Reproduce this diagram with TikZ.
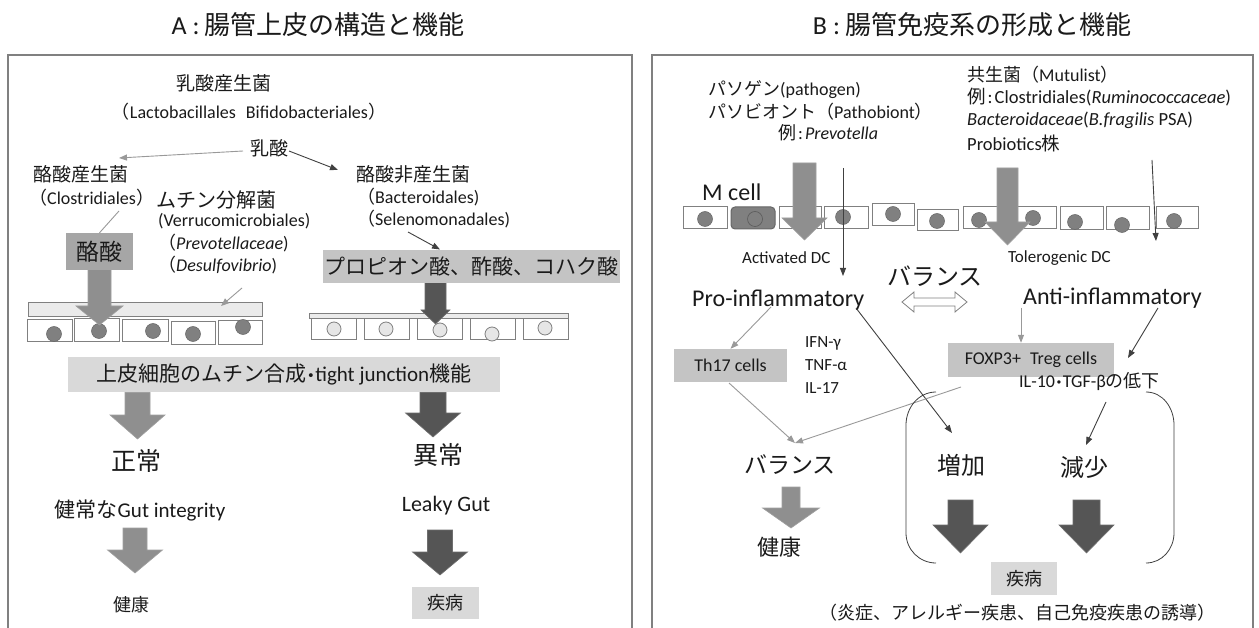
\documentclass[tikz,border=0pt]{standalone}
\usepackage{fontspec}
\setmainfont{Carlito}
\newfontfamily\jp{Noto Sans CJK JP}
\usetikzlibrary{arrows.meta}
\newcommand\J[1]{{\jp #1}}
\newcommand\mdot{\hspace{1.5pt}\textbf{·}\hspace{1.5pt}}
\definecolor{panel}{HTML}{808080}
\definecolor{garrow}{HTML}{8F8F8F}
\definecolor{darrow}{HTML}{555555}
\definecolor{gline}{HTML}{999999}
\definecolor{dline}{HTML}{404040}
\definecolor{boxA}{HTML}{A6A6A6}
\definecolor{boxB}{HTML}{C4C4C4}
\definecolor{boxC}{HTML}{D9D9D9}
\definecolor{nucD}{HTML}{808080}
\definecolor{nucL}{HTML}{E6E6E6}
\definecolor{mucus}{HTML}{EBEBEB}
\definecolor{textc}{HTML}{1A1A1A}
\newcommand\blockarr[7]{%
  \filldraw[fill=#7,draw=#7!85!white,line width=0.6pt] (#1-#5,#2) -- (#1+#5,#2) -- (#1+#5,#3) -- (#1+#6,#3) -- (#1,#4) -- (#1-#6,#3) -- (#1-#5,#3) -- cycle;}
\tikzset{
  lbl/.style={inner sep=0pt, text=textc, font=\fontsize{#1}{#1}\selectfont},
  panelline/.style={draw=panel, line width=1.5pt},
  cellbox/.style={draw=panel, line width=1pt, fill=white},
  nucdark/.style={fill=nucD, draw=nucD!80!black, line width=0.5pt},
  nuclight/.style={fill=nucL, draw=panel, line width=0.8pt},
  gconn/.style={draw=gline, line width=0.9pt, -{Triangle[length=8pt,width=6pt]}},
  dconn/.style={draw=dline, line width=0.9pt, -{Triangle[length=8pt,width=6pt]}},
  fillbox/.style={inner sep=0pt, text=textc, fill=#1},
}
\begin{document}
\begin{tikzpicture}[x=1pt,y=-1pt]
\useasboundingbox (0,0) rectangle (1259,628);
\fill[white] (0,0) rectangle (1259,628);

% ---------------- titles and panels
\node[lbl=26] (titleA) at (318,25) {A\hspace{6pt}:\hspace{5pt}\J{腸管上皮の構造と機能}};
\node[lbl=26] (titleB) at (972,25) {B\hspace{6pt}:\hspace{5pt}\J{腸管免疫系の形成と機能}};
\draw[panelline] (8,650) -- (8,55) -- (632,55) -- (632,650);
\draw[panelline] (652,650) -- (652,55) -- (1253,55) -- (1253,650);

% ================= PANEL A
\node[lbl=19] (lab) at (224,83) {\J{乳酸産生菌}};
\node[lbl=18] (lacto) at (249,112) {\J{（}Lactobacillales\hspace{10pt}Bifidobacteriales\J{）}};
\node[lbl=19] (lactic) at (269,148) {\J{乳酸}};
\node[lbl=19,anchor=west] (bprod) at (33,174) {\J{酪酸産生菌}};
\node[lbl=19,anchor=west] (bnon) at (356,174) {\J{酪酸非産生菌}};
\node[lbl=18,anchor=west] (clos) at (29,198) {\J{（}Clostridiales\J{）}};
\node[lbl=20,anchor=west] (mucin) at (156,200) {\J{ムチン分解菌}};
\node[lbl=18,anchor=west] (verru) at (158,221) {(Verrucomicrobiales)};
\node[lbl=18,anchor=west] (prevo) at (158,243) {\J{（}\textit{Prevotellaceae})};
\node[lbl=18,anchor=west] (desul) at (158,265) {\J{（}\textit{Desulfovibrio})};
\node[lbl=18,anchor=west] (bacte) at (357,197) {\J{（}Bacteroidales)};
\node[lbl=18,anchor=west] (selen) at (357,219) {\J{（}Selenomonadales)};

\coordinate (l1s) at (243,151); \coordinate (l1e) at (119,158);
\coordinate (l2s) at (289,151); \coordinate (l2e) at (338,170);
\draw[gconn] (l1s) -- (l1e);
\draw[dconn] (l2s) -- (l2e);

% mucus layer and cells (left)
\draw[draw=panel, line width=1pt, fill=mucus] (28,303) rectangle (262,317);
\foreach \a/\b/\t/\u in {27/72/320/342, 74/119/319/342, 122/168/320/342, 171/215/322/345, 218/262/321/345}
  \draw[cellbox] (\a,\t) rectangle (\b,\u);
\foreach \cx/\cy in {54/334, 99/331, 153/331, 193/334, 243/327}
  \draw[nucdark] (\cx,\cy) circle (7.5);

\coordinate (dsS) at (242,288); \coordinate (dsE) at (221,306);
\draw[gconn] (dsS) -- (dsE);

% butyrate box and arrow
\blockarr{99.5}{262}{306}{325}{11.5}{23.5}{garrow}
\node[fillbox=boxA, minimum width=67, minimum height=37, lbl=23] (butyr) at (99.5,251.5) {\J{酪酸}};
\coordinate (clS) at (119,211);
\draw[draw=gline, line width=0.9pt] (clS) -- (butyr.north);

% right side A
\draw[draw=panel, line width=1pt, fill=mucus] (309,314) rectangle (568,319);
\foreach \a/\b in {311/356, 364/409, 417/462, 470/515, 523/568}
  \draw[cellbox] (\a,319) rectangle (\b,340);
\foreach \cx/\cy in {334/329, 386/329, 440/330, 492/334, 545/328}
  \draw[nuclight] (\cx,\cy) circle (7);
\blockarr{435.5}{275}{310}{324}{10.5}{14.5}{darrow}
\node[fillbox=boxB, minimum width=297, minimum height=33, lbl=21] (propion) at (471.5,266.5) {\J{プロピオン酸、酢酸、コハク酸}};
\coordinate (seS) at (408,232);
\draw[dconn] (seS) -- (440,249.5);

% epithelium box
\node[fillbox=boxC, minimum width=432, minimum height=35, lbl=21] (epi) at (284,374.5) {\J{上皮細胞のムチン合成}\mdot tight junction\J{機能}};

\blockarr{137.5}{392.5}{415}{439}{12.5}{27.5}{garrow}
\blockarr{433}{392.5}{413}{437}{13}{27.5}{darrow}
\node[lbl=25] (normal) at (136,461) {\J{正常}};
\node[lbl=25] (abnormal) at (438,455) {\J{異常}};
\node[lbl=21] (gut) at (140,510) {\J{健常な}Gut integrity};
\node[lbl=22] (leaky) at (446,506) {Leaky Gut};
\blockarr{135}{528}{550}{573}{12}{27.5}{garrow}
\blockarr{440}{530}{552}{575}{12.5}{27.5}{darrow}
\node[lbl=18] (healthA) at (131,605) {\J{健康}};
\node[fillbox=boxC, minimum width=67, minimum height=32, lbl=18] (diseaseA) at (445.5,603) {\J{疾病}};

% ================= PANEL B
\node[lbl=18,anchor=west] (patho) at (708,90) {\J{パソゲン}(pathogen)};
\node[lbl=18,anchor=west] (pathob) at (708,112) {\J{パソビオント（}Pathobiont\J{）}};
\node[lbl=18,anchor=west] (exprev) at (778,133) {\J{例}\hspace{2pt}:\hspace{2pt}\textit{Prevotella}};
\node[lbl=18,anchor=west] (mutu) at (967,75) {\J{共生菌（}Mutulist\J{）}};
\node[lbl=18.5,anchor=west] (exclos) at (967,97) {\J{例}\hspace{2pt}:\hspace{2pt}Clostridiales(\textit{Ruminococcaceae})};
\node[lbl=18.5,anchor=west] (bfrag) at (967,120) {\textit{Bacteroidaceae}(\textit{B.fragilis} PSA)};
\node[lbl=18.5,anchor=west] (probio) at (967,143) {Probiotics\J{株}};
\node[lbl=24,anchor=west] (mcell) at (702,192) {M cell};

% cells row
\foreach \a/\b/\t/\u in {683/727/207/229, 779/821/207/229, 824/868/207/229, 872/914/204/226, 917/958/210/231, 963/1012/207/229, 1015/1056/207/229, 1060/1103/207/230, 1106/1149/207/230, 1156/1198/207/229}
  \draw[cellbox] (\a,\t) rectangle (\b,\u);
\draw[draw=panel!80!black, line width=1pt, fill=nucD, rounded corners=4pt] (731,207) rectangle (775,229);
\draw[draw=nucD!70!black, line width=0.6pt, fill=nucD] (755,219) circle (7.5);
\foreach \cx/\cy in {705/219, 843/217, 893/214, 937/221, 979/220, 1033/218, 1075/222, 1122/225, 1174/221}
  \draw[nucdark] (\cx,\cy) circle (7.5);

\blockarr{804.5}{163}{218}{240}{11.5}{22.5}{garrow}
\blockarr{1007.5}{168}{222}{245}{10.5}{22.5}{garrow}
\coordinate (t1s) at (843,168); \coordinate (t1e) at (843,276);
\coordinate (t2s) at (1152,160); \coordinate (t2e) at (1156,241);
\draw[dconn] (t1s) -- (t1e);
\draw[dconn] (t2s) -- (t2e);

\node[lbl=17,anchor=west] (actdc) at (742,258) {Activated DC};
\node[lbl=17,anchor=west] (toldc) at (1008,258) {Tolerogenic DC};
\node[lbl=24] (balance1) at (935,276) {\J{バランス}};
\node[lbl=24,anchor=west] (pro) at (692,300) {Pro-inflammatory};
\node[lbl=24,anchor=west] (anti) at (1023,298) {Anti-inflammatory};
\draw[draw=panel, line width=0.8pt, fill=white] (902,302) -- (914,292) -- (914,298) -- (955,298) -- (955,292) -- (967,302) -- (955,312) -- (955,306) -- (914,306) -- (914,312) -- cycle;

\node[fillbox=boxB, minimum width=113, minimum height=33, lbl=18] (th17) at (730.5,365.5) {Th17 cells};
\node[lbl=17,anchor=west] (ifn) at (805,343) {IFN-γ};
\node[lbl=17,anchor=west] (tnf) at (805,365) {TNF-α};
\node[lbl=17,anchor=west] (il17) at (805,388) {IL-17};
\node[fillbox=boxB, minimum width=166, minimum height=34, lbl=18] (foxp3) at (1031,360) {FOXP3+\hspace{9pt}Treg cells};
\node[lbl=18,anchor=west] (il10) at (1019,382) {IL-10\mdot TGF-β\J{の低下}};

\node[lbl=23] (balance2) at (790,465) {\J{バランス}};
\node[lbl=24] (increase) at (961,465) {\J{増加}};
\node[lbl=24] (decrease) at (1084,467) {\J{減少}};

\coordinate (p1) at (771,307); \coordinate (p2) at (856,308);
\coordinate (a1) at (1021,308); \coordinate (a2) at (1158,308);
\coordinate (thS) at (729,383); \coordinate (fxS) at (961,387);
\coordinate (balT) at (795,443); \coordinate (incT) at (952,433);
\coordinate (ilS) at (1106,402); \coordinate (decT) at (1086,445);
\draw[gconn] (p1) -- (th17.north);
\draw[dconn] (p2) -- (incT);
\draw[gconn] (a1) -- (a1 |- foxp3.north);
\draw[dconn] (a2) -- (1128,358);
\draw[gconn] (thS) -- (balT);
\draw[gconn] (fxS) -- (balT);
\draw[dconn] (ilS) -- (decT);

\blockarr{791}{487}{508}{528}{9}{28.5}{garrow}
\node[lbl=22] (healthB) at (779,547) {\J{健康}};
\blockarr{960.5}{500}{525}{553}{12.5}{27.5}{darrow}
\blockarr{1086.5}{500}{525}{553}{13.5}{27.5}{darrow}

\draw[draw=dline, line width=0.8pt] (936,392) to[out=180,in=90] (906,425) -- (906,533) to[out=-90,in=180] (936,563);
\draw[draw=dline, line width=0.8pt] (1146,392) to[out=0,in=90] (1174,425) -- (1174,533) to[out=-90,in=0] (1146,563);

\node[fillbox=boxC, minimum width=66, minimum height=33, lbl=18] (diseaseB) at (1024,578.5) {\J{疾病}};
\node[lbl=18] (induce) at (1017,613) {\J{（炎症、アレルギー疾患、自己免疫疾患の誘導）}};
\end{tikzpicture}
\end{document}
